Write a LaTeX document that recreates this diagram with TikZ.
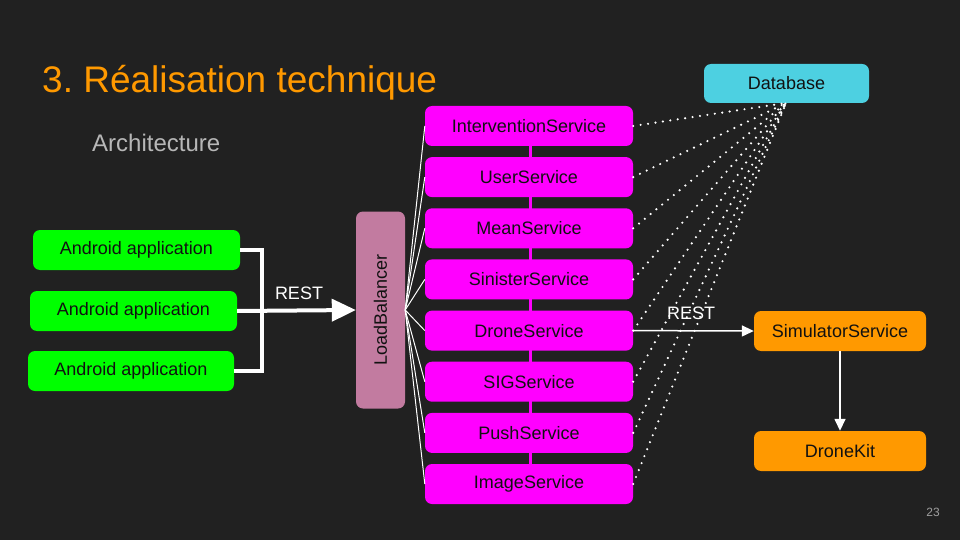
\documentclass[tikz,border=0pt]{standalone}
\usepackage{fontspec}
\setmainfont{Liberation Sans}
\usetikzlibrary{arrows.meta}
\frenchspacing
\definecolor{bg}{HTML}{212121}
\definecolor{mag}{HTML}{FF00FF}
\definecolor{grn}{HTML}{00FF00}
\definecolor{lbc}{HTML}{C27BA0}
\definecolor{dbc}{HTML}{4DD0E1}
\definecolor{org}{HTML}{FF9900}
\definecolor{txt}{HTML}{111111}
\definecolor{subgray}{HTML}{B7B7B7}
\definecolor{pggray}{HTML}{9E9E9E}
\tikzset{
  box/.style={rectangle, rounded corners=7pt, inner sep=0pt, text=txt, font=\fontsize{18}{21}\selectfont},
  svc/.style={box, fill=mag, minimum width=208pt, minimum height=40pt},
  app/.style={box, fill=grn, minimum height=40pt},
  orbox/.style={box, fill=org, minimum width=172pt, minimum height=40pt},
  thin/.style={draw=white, line width=1pt},
  dots/.style={draw=white, line width=2.4pt, line cap=round, dash pattern=on 0pt off 7.5pt},
  thick/.style={draw=white, line width=4pt},
}
\begin{document}
\begin{tikzpicture}[x=1pt,y=-1pt]
\fill[bg] (0,0) rectangle (960,540);
\useasboundingbox (0,0) rectangle (960,540);

\node[anchor=base west, text=org, font=\fontsize{37}{42}\selectfont, inner sep=0pt] (title) at (42,93) {3. Réalisation technique};
\node[anchor=base west, text=subgray, font=\fontsize{24}{28}\selectfont, inner sep=0pt] (arch) at (92,152) {Architecture};
\node[anchor=base east, text=pggray, font=\fontsize{12}{14}\selectfont, inner sep=0pt] (pg) at (940,516) {23};

% backbone behind services
\draw[mag, line width=3pt] (530,126) -- (530,484);

\node[svc] (s1) at (529,126) {InterventionService};
\node[svc] (s2) at (529,177.1) {UserService};
\node[svc] (s3) at (529,228.3) {MeanService};
\node[svc] (s4) at (529,279.4) {SinisterService};
\node[svc] (s5) at (529,330.6) {DroneService};
\node[svc] (s6) at (529,381.7) {SIGService};
\node[svc] (s7) at (529,432.9) {PushService};
\node[svc] (s8) at (529,484) {ImageService};

\node[app, minimum width=207pt] (a1) at (136.5,250) {Android application};
\node[app, minimum width=207pt] (a2) at (133.5,311) {Android application};
\node[app, minimum width=206pt] (a3) at (131,371) {Android application};

\node[box, fill=lbc, minimum width=49pt, minimum height=197pt] (lb) at (380.5,310) {};
\node[rotate=90, text=txt, font=\fontsize{18}{21}\selectfont, inner sep=0pt] (lbt) at (lb.center) {LoadBalancer};

\node[box, fill=dbc, minimum width=165pt, minimum height=39pt] (db) at (786.5,83.5) {Database};
\node[orbox] (sim) at (840,331) {SimulatorService};
\node[orbox] (dk) at (840,451) {DroneKit};

% bracket and REST arrow
\coordinate (j1) at (262,250);
\coordinate (j3) at (262,371);
\draw[thick, line join=miter] (a1.east) -- (j1) -- (j3) -- (a3.east);
\draw[thick, -{Triangle[length=24pt,width=22pt]}] (a2.east) -- (lb.west);
\node[text=white, font=\fontsize{18}{21}\selectfont, inner sep=0pt] (rest1) at (299,293) {REST};

% LB to services
\foreach \s in {s1,s2,s3,s4,s5,s6,s7,s8}{
  \draw[thin] (lb.east) -- (\s.west);
}
% services to database
\coordinate (dbb) at (786,103);
\foreach \s in {s1,s2,s3,s4,s5,s6,s7,s8}{
  \draw[dots] (\s.east) -- (dbb);
}

\draw[thin, line width=1.5pt, -{Triangle[length=12pt,width=11pt]}] (s5.east) -- (sim.west);
\node[text=white, font=\fontsize{18}{21}\selectfont, inner sep=0pt] (rest2) at (691,313) {REST};
\draw[thin, line width=1.5pt, -{Triangle[length=12pt,width=11pt]}] (sim.south) -- (dk.north);
\end{tikzpicture}
\end{document}
